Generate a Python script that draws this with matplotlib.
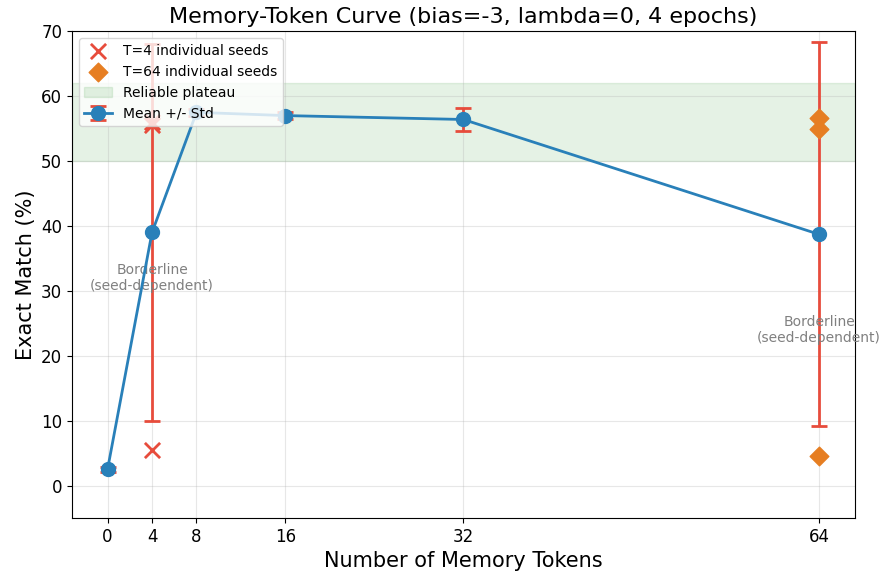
import matplotlib
matplotlib.use("Agg")
import matplotlib.pyplot as plt
import numpy as np

tokens = [0, 4, 8, 16, 32, 64]
means = [2.5, 39.0, 57.5, 57.0, 56.4, 38.7]
stds = [0.4, 29.0, 0.5, 0.6, 1.75, 29.6]
t4_seeds = [5.5, 55.5, 56.0]
t64_seeds = [4.5, 55.0, 56.7]
plateau = (50, 62)
notes = [(4, 32, "Borderline\n(seed-dependent)"), (64, 24, "Borderline\n(seed-dependent)")]

fig = plt.figure(figsize=(8.83, 5.78), dpi=100)
ax = fig.add_axes([0.0815, 0.1038, 0.8865, 0.8422])

ax.axhspan(plateau[0], plateau[1], color="green", alpha=0.1, label="Reliable plateau", zorder=0)
ax.errorbar(tokens, means, yerr=stds, fmt="o-", color="#2980b9", ecolor="#e74c3c",
            elinewidth=2, capsize=6, capthick=2, markersize=10, linewidth=2,
            label="Mean +/- Std", zorder=3)
ax.scatter([4] * len(t4_seeds), t4_seeds, marker="x", s=120, color="#e74c3c",
           linewidths=2, label="T=4 individual seeds", zorder=4)
ax.scatter([64] * len(t64_seeds), t64_seeds, marker="D", s=90, color="#e67e22",
           label="T=64 individual seeds", zorder=4)

for x, y, t in notes:
    ax.text(x, y, t, ha="center", va="center", fontsize=10, color="gray")

ax.set_xticks(tokens)
ax.set_xlim(-3.2, 67.2)
ax.set_ylim(-5, 70)
ax.grid(True, alpha=0.3)
ax.set_xlabel("Number of Memory Tokens", fontsize=15)
ax.set_ylabel("Exact Match (%)", fontsize=15)
ax.set_title("Memory-Token Curve (bias=-3, lambda=0, 4 epochs)", fontsize=16)
ax.tick_params(labelsize=12)

h, l = ax.get_legend_handles_labels()
order = [l.index(x) for x in ["T=4 individual seeds", "T=64 individual seeds", "Reliable plateau", "Mean +/- Std"]]
ax.legend([h[i] for i in order], [l[i] for i in order], loc="upper left", fontsize=10)

fig.savefig("out.png", dpi=100)
